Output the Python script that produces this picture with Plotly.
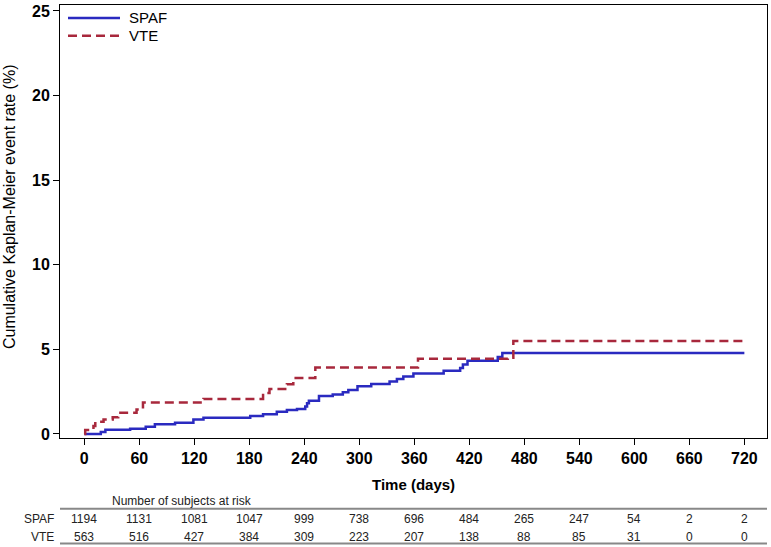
import plotly.graph_objects as go

# ---- data ----
spaf_t = [0, 18, 23, 50, 67, 77, 99, 119, 130, 181, 195, 210, 221, 232, 241, 243, 245, 256,
          271, 282, 288, 298, 313, 333, 341, 348, 359, 392, 410, 413, 418, 451, 456, 720]
spaf_v = [0, 0.12, 0.25, 0.31, 0.43, 0.57, 0.66, 0.86, 0.96, 1.06, 1.16, 1.31, 1.41, 1.47,
          1.62, 1.82, 1.96, 2.24, 2.33, 2.47, 2.59, 2.82, 2.95, 3.10, 3.24, 3.40, 3.57, 3.74,
          3.90, 4.10, 4.33, 4.55, 4.78, 4.78]
vte_t = [0, 1, 10, 12, 21, 31, 37, 57, 64, 130, 195, 202, 221, 228, 252, 364, 462, 468, 720]
vte_v = [0, 0.24, 0.47, 0.72, 0.86, 0.98, 1.25, 1.45, 1.86, 2.06, 2.42, 2.65, 2.94, 3.30,
         3.92, 4.45, 4.50, 5.49, 5.49]

x_ticks = [0, 60, 120, 180, 240, 300, 360, 420, 480, 540, 600, 660, 720]
y_ticks = [0, 5, 10, 15, 20, 25]
risk_spaf = [1194, 1131, 1081, 1047, 999, 738, 696, 484, 265, 247, 54, 2, 2]
risk_vte = [563, 516, 427, 384, 309, 223, 207, 138, 88, 85, 31, 0, 0]
series_names = ["SPAF", "VTE"]

BLUE = "#2a2ac0"
RED = "#a8283c"
FONT = "Liberation Sans, Arial, sans-serif"

W, H = 771, 547
L, R, T, B = 60, 4, 3, 109
PH = H - T - B
PW = W - L - R


def py(ypx):
    return (H - B - ypx) / PH


def px(xpx):
    return (xpx - L) / PW


fig = go.Figure()
fig.add_trace(go.Scatter(x=spaf_t, y=spaf_v, mode="lines", line_shape="hv",
                         line=dict(color=BLUE, width=2.5), name=series_names[0], showlegend=False))
fig.add_trace(go.Scatter(x=vte_t, y=vte_v, mode="lines", line_shape="hv",
                         line=dict(color=RED, width=2.5, dash="9px,5px"), name=series_names[1],
                         showlegend=False))

annotations = []
shapes = []

# manual legend
for i, (nm, col, dash) in enumerate([(series_names[0], BLUE, "solid"), (series_names[1], RED, "9px,5px")]):
    yy = py(16 + i * 18)
    shapes.append(dict(type="line", xref="paper", yref="paper", x0=px(68), x1=px(120), y0=yy, y1=yy,
                       line=dict(color=col, width=2.5, dash=dash)))
    annotations.append(dict(xref="paper", yref="paper", x=px(127), y=yy, text=nm, showarrow=False,
                            xanchor="left", yanchor="middle",
                            font=dict(family=FONT, size=15, color="black")))

# axis titles
annotations.append(dict(xref="paper", yref="paper", x=px(413.5), y=py(485), text="<b>Time (days)</b>",
                        showarrow=False, xanchor="center", yanchor="middle",
                        font=dict(family=FONT, size=15, color="black")))
annotations.append(dict(xref="paper", yref="paper", x=px(9), y=py(206),
                        text="Cumulative Kaplan-Meier event rate (%)", textangle=-90,
                        showarrow=False, xanchor="center", yanchor="middle",
                        font=dict(family=FONT, size=16, color="black")))

# risk table
annotations.append(dict(xref="paper", yref="paper", x=px(110), y=py(501),
                        text="Number of subjects at risk", showarrow=False,
                        xanchor="left", yanchor="middle",
                        font=dict(family=FONT, size=12, color="#222")))
for yline in (509, 544):
    shapes.append(dict(type="line", xref="paper", yref="paper", x0=0, x1=1,
                       y0=py(yline), y1=py(yline), line=dict(color="#888", width=2)))
for nm, vals, ypx in ((series_names[0], risk_spaf, 519), (series_names[1], risk_vte, 537)):
    annotations.append(dict(xref="paper", yref="paper", x=px(56), y=py(ypx), text=nm,
                            showarrow=False, xanchor="right", yanchor="middle",
                            font=dict(family=FONT, size=12, color="#222")))
    for t, v in zip(x_ticks, vals):
        annotations.append(dict(xref="x", yref="paper", x=t, y=py(ypx), text=str(v),
                                showarrow=False, xanchor="center", yanchor="middle",
                                font=dict(family=FONT, size=12, color="#222")))

fig.update_layout(
    width=W, height=H,
    margin=dict(l=L, r=R, t=T, b=B),
    paper_bgcolor="white", plot_bgcolor="white",
    showlegend=False,
    annotations=annotations, shapes=shapes,
    xaxis=dict(range=[-26.5, 744.7], tickvals=x_ticks, ticktext=[f"<b>{t}</b>" for t in x_ticks],
               ticks="outside", ticklen=6, tickcolor="black", showgrid=False, zeroline=False,
               showline=True, mirror=True, linecolor="black", linewidth=1,
               tickfont=dict(family=FONT, size=16, color="black")),
    yaxis=dict(range=[-0.24, 25.35], tickvals=y_ticks, ticktext=[f"<b>{t}</b>" for t in y_ticks],
               ticks="outside", ticklen=6, tickcolor="black", showgrid=False, zeroline=False,
               showline=True, mirror=True, linecolor="black", linewidth=1,
               tickfont=dict(family=FONT, size=16, color="black")),
)

fig.write_html("out.html", config={"displayModeBar": False},
               post_script="document.body.style.margin='0';document.body.style.overflow='hidden';")
